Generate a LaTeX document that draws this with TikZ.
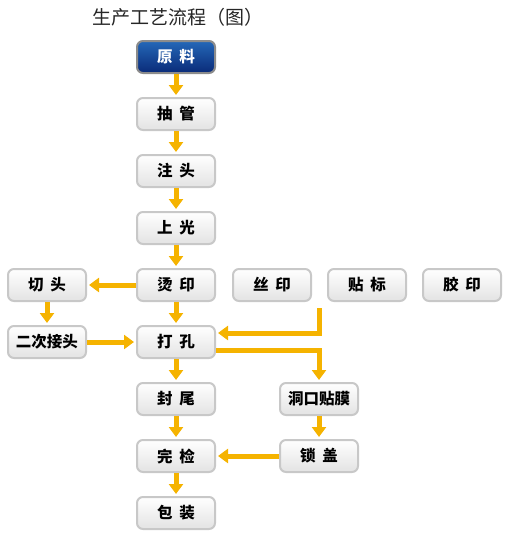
\documentclass[tikz,border=0pt]{standalone}
\usepackage{fontspec}
\newfontfamily\cjk[WordSpace=1.9]{Noto Sans CJK SC}
\usetikzlibrary{arrows.meta}
\definecolor{gold}{HTML}{F5B300}
\definecolor{boxline}{HTML}{C8C8C8}
\definecolor{navytop}{HTML}{2468B8}
\definecolor{navybot}{HTML}{0A2A78}
\begin{document}
\begin{tikzpicture}[x=1pt,y=-1pt,
    proc/.style={draw=boxline,line width=2pt,rounded corners=6pt,top color=white,bottom color=black!11,
      minimum width=78pt,minimum height=32pt,inner sep=0pt,font=\cjk\bfseries\fontsize{15.5}{15.5}\selectfont},
    first/.style={proc,draw=black!45,top color=navytop,bottom color=navybot,text=white},
    flow/.style={gold,line width=5pt,-{Triangle[width=14pt,length=10pt]},shorten >=2pt}]
  \useasboundingbox (0,0) rectangle (508,538);
  \node[font=\cjk\fontsize{19}{19}\selectfont,text=black!85] (T) at (178,17) {生产工艺流程（图）};
  % main column
  \node[first] (YL) at (176,57) {原 料};
  \node[proc] (CG) at (176,114) {抽 管};
  \node[proc] (ZT) at (176,171) {注 头};
  \node[proc] (SG) at (176,228) {上 光};
  \node[proc] (TY) at (176,285) {烫 印};
  \node[proc] (DK) at (176,342) {打 孔};
  \node[proc] (FW) at (176,399) {封 尾};
  \node[proc] (WJ) at (176,456) {完 检};
  \node[proc] (BZ) at (176,513) {包 装};
  % side branches
  \node[proc] (QT) at (47,285) {切 头};
  \node[proc] (EC) at (47,342) {二次接头};
  \node[proc] (SY) at (272,285) {丝 印};
  \node[proc] (TB) at (367,285) {贴 标};
  \node[proc] (JY) at (462,285) {胶 印};
  \node[proc] (DM) at (319,399) {洞口贴膜};
  \node[proc] (SZ) at (319,456) {锁 盖};
  \coordinate (IN) at (319,308);
  % arrows
  \foreach \a/\b in {YL/CG,CG/ZT,ZT/SG,SG/TY,TY/DK,DK/FW,FW/WJ,WJ/BZ}{ \draw[flow] (\a) -- (\b); }
  \draw[flow] (TY) -- (QT);
  \draw[flow] (QT) -- (EC);
  \draw[flow] (EC) -- (DK);
  \draw[flow] (IN) |- ([yshift=9pt]DK.east);
  \draw[flow] ([yshift=-8pt]DK.east) -| (DM.north);
  \draw[flow] (DM) -- (SZ);
  \draw[flow] (SZ) -- (WJ);
\end{tikzpicture}
\end{document}
